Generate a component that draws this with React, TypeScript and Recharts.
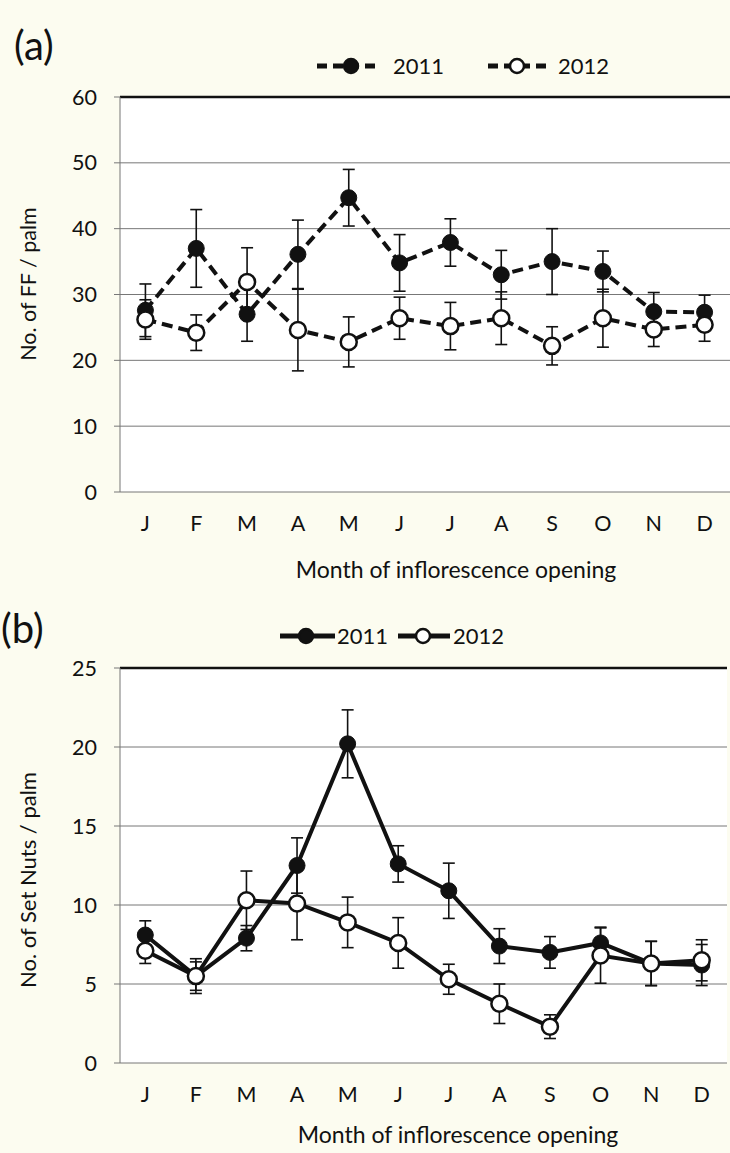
import React from "react";
import {
  LineChart,
  Line,
  XAxis,
  YAxis,
  CartesianGrid,
  ErrorBar,
  ReferenceLine,
} from "recharts";

// ---------------------------------------------------------------------------
// Data
// ---------------------------------------------------------------------------

const months = ["J", "F", "M", "A", "M", "J", "J", "A", "S", "O", "N", "D"];

// (a) No. of FF / palm
const ff2011 = [27.6, 37.0, 27.0, 36.1, 44.7, 34.8, 37.9, 33.0, 35.0, 33.5, 27.4, 27.3];
const ff2011Err = [4.0, 5.9, 4.1, 5.2, 4.3, 4.3, 3.6, 3.7, 5.0, 3.1, 2.9, 2.6];
const ff2012 = [26.2, 24.2, 31.9, 24.6, 22.8, 26.4, 25.2, 26.4, 22.2, 26.4, 24.7, 25.4];
const ff2012Err = [3.0, 2.7, 5.2, 6.2, 3.8, 3.2, 3.6, 4.0, 2.9, 4.4, 2.6, 2.5];
const ffTicks = [0, 10, 20, 30, 40, 50, 60];

// (b) No. of Set Nuts / palm
const sn2011 = [8.1, 5.5, 7.9, 12.5, 20.2, 12.6, 10.9, 7.4, 7.0, 7.6, 6.3, 6.2];
const sn2011Err = [0.9, 1.1, 0.8, 1.75, 2.15, 1.15, 1.75, 1.1, 1.0, 1.0, 1.4, 1.3];
const sn2012 = [7.1, 5.5, 10.3, 10.1, 8.9, 7.6, 5.3, 3.75, 2.3, 6.8, 6.3, 6.5];
const sn2012Err = [0.8, 0.9, 1.85, 2.3, 1.6, 1.6, 0.95, 1.25, 0.75, 1.75, 1.4, 1.3];
const snTicks = [0, 5, 10, 15, 20, 25];

const FONT = "Lato, 'Open Sans', sans-serif";
const INK = "#111";

// tick marks sit between months, labels sit on the months
const boundaryTicks = months.map((_, i) => i - 0.5).concat(months.length - 0.5);
const monthTicks = months.map((_, i) => i);
const xDomain: [number, number] = [-0.5, months.length - 0.5];

function buildRows(a: number[], aErr: number[], b: number[], bErr: number[]) {
  return months.map((m, i) => ({ idx: i, m, y11: a[i], e11: aErr[i], y12: b[i], e12: bErr[i] }));
}

// ---------------------------------------------------------------------------
// Panel
// ---------------------------------------------------------------------------

interface PanelProps {
  rows: ReturnType<typeof buildRows>;
  ticks: number[];
  dashed: boolean;
  height: number;
  marginTop: number;
  marginBottom: number;
  marginRight: number;
  rightBorder: boolean;
}

function Panel({ rows, ticks, dashed, height, marginTop, marginBottom, marginRight, rightBorder }: PanelProps) {
  const yMax = ticks[ticks.length - 1];
  const dash = dashed ? "11 6" : undefined;
  return (
    <LineChart
      width={730}
      height={height}
      data={rows}
      margin={{ top: marginTop, right: marginRight, bottom: marginBottom, left: 0 }}
    >
      <CartesianGrid vertical={false} stroke="#777" strokeWidth={1} fill="#fff" />
      <XAxis
        dataKey="idx"
        type="number"
        domain={xDomain}
        ticks={boundaryTicks}
        interval={0}
        tickFormatter={() => ""}
        height={0}
        tickSize={6}
        stroke="#777"
      />
      <XAxis
        xAxisId="m"
        dataKey="idx"
        type="number"
        domain={xDomain}
        ticks={monthTicks}
        interval={0}
        tickFormatter={(v: number) => months[v]}
        axisLine={false}
        tickLine={false}
        height={40}
        tickSize={6}
        tickMargin={18}
        tick={{ fill: INK, fontSize: 21.5, fontFamily: FONT }}
      />
      <YAxis
        domain={[0, yMax]}
        ticks={ticks}
        interval={0}
        width={120}
        tickSize={6}
        tickMargin={17}
        stroke="#777"
        tick={{ fill: INK, fontSize: 21.5, fontFamily: FONT }}
      />
      {rightBorder && (
        <YAxis
          yAxisId="r"
          orientation="right"
          width={0}
          domain={[0, yMax]}
          tick={false}
          tickLine={false}
          stroke="#444"
        />
      )}
      <ReferenceLine y={yMax} stroke={INK} strokeWidth={2.5} />
      <Line
        dataKey="y11"
        stroke={INK}
        strokeWidth={4}
        strokeDasharray={dash}
        dot={{ r: 8, fill: INK, stroke: INK, strokeWidth: 1, strokeDasharray: "none" }}
        isAnimationActive={false}
      >
        <ErrorBar dataKey="e11" width={6} stroke={INK} strokeWidth={1.6} />
      </Line>
      <Line
        dataKey="y12"
        stroke={INK}
        strokeWidth={4}
        strokeDasharray={dash}
        dot={{ r: 8, fill: "#fff", stroke: INK, strokeWidth: 2.5, strokeDasharray: "none" }}
        isAnimationActive={false}
      >
        <ErrorBar dataKey="e12" width={6} stroke={INK} strokeWidth={1.6} />
      </Line>
    </LineChart>
  );
}

// ---------------------------------------------------------------------------
// Legend swatch + titles overlay
// ---------------------------------------------------------------------------

function Swatch({ x1, x2, cx, y, filled, dashed, tx, label }: {
  x1: number; x2: number; cx: number; y: number; filled: boolean; dashed: boolean; tx: number; label: string;
}) {
  return (
    <g>
      <line x1={x1} x2={x2} y1={y} y2={y} stroke={INK} strokeWidth={5} strokeDasharray={dashed ? "10 6" : undefined} />
      <circle cx={cx} cy={y} r={7} fill={filled ? INK : "#fff"} stroke={INK} strokeWidth={2.5} />
      <text x={tx} y={y + 8} fontSize={22} fontFamily={FONT} fill={INK}>{label}</text>
    </g>
  );
}

function Overlay() {
  return (
    <svg width={730} height={1153} style={{ position: "absolute", left: 0, top: 0, pointerEvents: "none" }}>
      <text x={14} y={60} fontSize={40} fontFamily={FONT} fill={INK}>(a)</text>
      <text x={1} y={643} fontSize={40} fontFamily={FONT} fill={INK}>(b)</text>

      <Swatch x1={317} x2={381} cx={351} y={66} filled dashed tx={393} label="2011" />
      <Swatch x1={488} x2={552} cx={517} y={66} filled={false} dashed tx={558} label="2012" />

      <Swatch x1={280} x2={335} cx={306} y={636} filled dashed={false} tx={337} label="2011" />
      <Swatch x1={398} x2={450} cx={423} y={636} filled={false} dashed={false} tx={453} label="2012" />

      <text x={36} y={284} transform="rotate(-90 36 284)" textAnchor="middle" fontSize={21.5} fontFamily={FONT} fill={INK}>
        No. of FF / palm
      </text>
      <text x={36} y={880} transform="rotate(-90 36 880)" textAnchor="middle" fontSize={22} fontFamily={FONT} fill={INK}>
        No. of Set Nuts / palm
      </text>

      <text x={456} y={578} textAnchor="middle" fontSize={23} fontFamily={FONT} fill={INK}>
        Month of inflorescence opening
      </text>
      <text x={458} y={1143} textAnchor="middle" fontSize={23} fontFamily={FONT} fill={INK}>
        Month of inflorescence opening
      </text>
    </svg>
  );
}

export default function App() {
  const rowsA = buildRows(ff2011, ff2011Err, ff2012, ff2012Err);
  const rowsB = buildRows(sn2011, sn2011Err, sn2012, sn2012Err);
  return (
    <div style={{ position: "absolute", left: 0, top: 0, width: 730, height: 1153, background: "#fcfcf0", overflow: "hidden" }}>
      <div style={{ position: "absolute", left: 0, top: 0 }}>
        <Panel rows={rowsA} ticks={ffTicks} dashed height={590} marginTop={97} marginBottom={58} marginRight={0} rightBorder={false} />
      </div>
      <div style={{ position: "absolute", left: 0, top: 590 }}>
        <Panel rows={rowsB} ticks={snTicks} dashed={false} height={563} marginTop={78} marginBottom={50} marginRight={3} rightBorder />
      </div>
      <Overlay />
    </div>
  );
}
